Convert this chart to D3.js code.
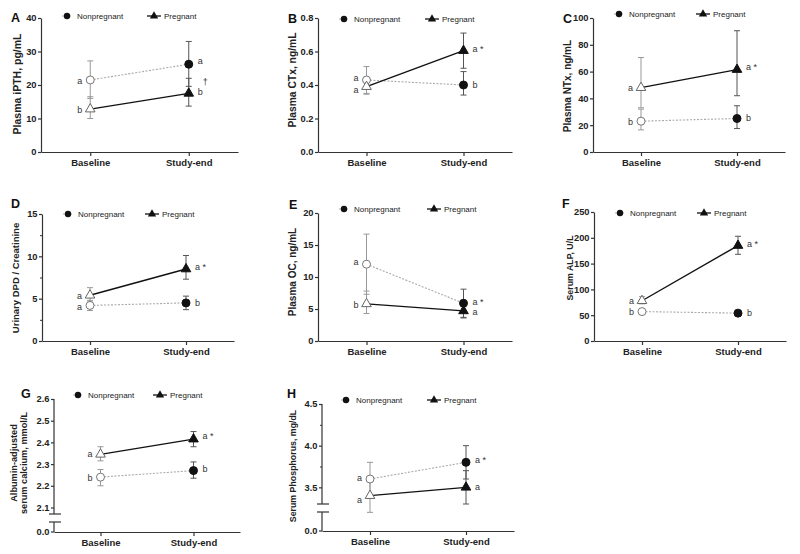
<!DOCTYPE html>
<html><head><meta charset="utf-8">
<script src="https://cdn.jsdelivr.net/npm/d3@7/dist/d3.min.js"></script>
<style>body{margin:0;background:#fff} svg text{font-family:"Liberation Sans",Arial,sans-serif}</style>
</head><body><svg id="c" width="800" height="554"></svg>
<script>
const categories = ["Baseline", "Study-end"];
const seriesNames = ["Nonpregnant", "Pregnant"];

// A: Plasma iPTH
const A_np = [21.5, 26.2], A_npLo = [16.0, 19.6], A_npHi = [27.2, 33.0];
const A_pg = [12.8, 17.5], A_pgLo = [10.0, 13.7], A_pgHi = [16.5, 22.0];
const A_ticks = [0, 10, 20, 30, 40];
const A_notes = [["a", 21.2, 0], ["b", 12.5, 0], ["a", 27.2, 1], ["b", 17.9, 1], ["†", 21.0, 2]];
// B: Plasma CTx
const B_np = [0.43, 0.40], B_npLo = [0.35, 0.34], B_npHi = [0.51, 0.48];
const B_pg = [0.39, 0.605], B_pgLo = [0.345, 0.50], B_pgHi = [0.435, 0.71];
const B_ticks = [0, 0.2, 0.4, 0.6, 0.8];
const B_notes = [["a", 0.44, 0], ["a", 0.37, 0], ["a *", 0.615, 1], ["b", 0.40, 1]];
// C: Plasma NTx
const C_np = [23, 25], C_npLo = [16.5, 17.5], C_npHi = [32, 34.5];
const C_pg = [48, 61.5], C_pgLo = [33, 42], C_pgHi = [70.5, 90.5];
const C_ticks = [0, 20, 40, 60, 80, 100];
const C_notes = [["a", 47.8, 0], ["b", 22.4, 0], ["a *", 63.4, 1], ["b", 25.4, 1]];
// D: Urinary DPD / Creatinine
const D_np = [4.2, 4.5], D_npLo = [3.6, 3.7], D_npHi = [4.8, 5.3];
const D_pg = [5.4, 8.5], D_pgLo = [4.6, 7.3], D_pgHi = [6.3, 10.1];
const D_ticks = [0, 5, 10, 15];
const D_minor = [2.5, 7.5, 12.5];
const D_notes = [["a", 5.35, 0], ["a", 4.05, 0], ["a *", 8.7, 1], ["b", 4.45, 1]];
// E: Plasma OC
const E_np = [12.0, 5.9], E_npLo = [7.3, 3.7], E_npHi = [16.7, 8.1];
const E_pg = [5.8, 4.7], E_pgLo = [4.3, 3.6], E_pgHi = [7.8, 5.8];
const E_ticks = [0, 5, 10, 15, 20];
const E_notes = [["a", 12.4, 0], ["b", 5.6, 0], ["a *", 6.1, 1], ["a", 4.6, 1]];
// F: Serum ALP
const F_np = [57, 54], F_npLo = [54, 50], F_npHi = [60, 58];
const F_pg = [78, 185], F_pgLo = [72, 168], F_pgHi = [86, 203];
const F_ticks = [0, 50, 100, 150, 200, 250];
const F_notes = [["a", 77.5, 0], ["b", 56.8, 0], ["a *", 189, 1], ["b", 53.7, 1]];
// G: Albumin-adjusted serum calcium
const G_np = [2.24, 2.27], G_npLo = [2.20, 2.235], G_npHi = [2.275, 2.31];
const G_pg = [2.345, 2.415], G_pgLo = [2.315, 2.38], G_pgHi = [2.38, 2.45];
const G_ticks = [2.1, 2.2, 2.3, 2.4, 2.5, 2.6];
const G_notes = [["a", 2.348, 0], ["b", 2.235, 0], ["a *", 2.428, 1], ["b", 2.277, 1]];
// H: Serum Phosphorus
const H_np = [3.6, 3.8], H_npLo = [3.4, 3.6], H_npHi = [3.8, 4.0];
const H_pg = [3.4, 3.5], H_pgLo = [3.2, 3.3], H_pgHi = [3.6, 3.7];
const H_ticks = [3.5, 4.0, 4.5];
const H_minor = [3.75, 4.25];
const H_notes = [["a", 3.608, 0], ["a", 3.348, 0], ["a *", 3.828, 1], ["a", 3.50, 1]];

const svg = d3.select("#c");
const AX = "#333";
const FF = '"Liberation Sans",Arial,sans-serif';

function panel(c) {
  const g = svg.append("g");
  const x = d3.scalePoint().domain(categories).range([c.x0, c.x1]).padding(0.5);
  const y = d3.scaleLinear().domain(c.dom).range([c.yb, c.yt]);
  const xAxisY = c.broken ? c.zeroY : c.yb;

  // y axis
  const ya = g.append("g").attr("transform", `translate(${c.x0},0)`)
    .call(d3.axisLeft(y).tickValues(c.ticks).tickSize(3).tickSizeOuter(0).tickPadding(1.5).tickFormat(d3.format(c.fmt)));
  if (c.minor) {
    g.append("g").attr("transform", `translate(${c.x0},0)`)
      .call(d3.axisLeft(y).tickValues(c.minor).tickSize(2).tickFormat(""))
      .call(s => { s.select(".domain").remove(); s.selectAll("line").attr("stroke", AX).attr("stroke-width", 1); });
  }
  if (c.broken) {
    ya.select(".domain").attr("d", `M0,${c.yt}V${c.yb}`);
    g.append("line").attr("x1", c.x0 - 5).attr("x2", c.x0 + 7).attr("y1", c.yb).attr("y2", c.yb).attr("stroke", AX).attr("stroke-width", 1.2);
    g.append("line").attr("x1", c.x0 - 5).attr("x2", c.x0 + 7).attr("y1", c.yb + 8).attr("y2", c.yb + 8).attr("stroke", AX).attr("stroke-width", 1.2);
    g.append("line").attr("x1", c.x0).attr("x2", c.x0).attr("y1", c.yb + 8).attr("y2", c.zeroY).attr("stroke", AX).attr("stroke-width", 1.2);
    g.append("line").attr("x1", c.x0 - 3).attr("x2", c.x0).attr("y1", c.zeroY).attr("y2", c.zeroY).attr("stroke", AX).attr("stroke-width", 1.2);
    g.append("text").attr("x", c.x0 - 4.5).attr("y", c.zeroY).attr("dy", "0.35em").attr("text-anchor", "end")
      .attr("font-size", 9.3).attr("font-weight", "bold").attr("fill", "#222").text("0.0");
  }
  ya.selectAll("path,line").attr("stroke", AX).attr("stroke-width", 1.2);
  ya.selectAll("text").attr("font-size", 9.3).attr("font-weight", "bold").attr("fill", "#222").style("font-family", FF);

  // x axis
  const xa = g.append("g").attr("transform", `translate(0,${xAxisY})`)
    .call(d3.axisBottom(x).tickSize(4).tickSizeOuter(0).tickPadding(3));
  xa.selectAll("path,line").attr("stroke", AX).attr("stroke-width", 1.2);
  xa.selectAll("text").attr("font-size", 9.5).attr("font-weight", "bold").attr("fill", "#222").style("font-family", FF);

  // panel letter
  g.append("text").attr("x", c.lx).attr("y", c.ly).attr("font-size", 12.5).attr("font-weight", "bold").attr("fill", "#111").text(c.letter);

  // y label
  const yl = g.append("text").attr("transform", `translate(${c.yLabX},${c.yLabY}) rotate(-90)`)
    .attr("text-anchor", "middle").attr("font-size", c.yFont).attr("font-weight", "bold").attr("fill", "#222");
  c.yLabel.forEach((t, i) => yl.append("tspan").attr("x", 0).attr("dy", i === 0 ? (-(c.yLabel.length - 1) * 0.55 + "em") : "1.1em").text(t));

  const pts = (vals) => vals.map((v, i) => [x(categories[i]), y(v)]);
  function errs(vals, lo, hi) {
    vals.forEach((v, i) => {
      const cx = x(categories[i]);
      const col = i === 0 ? "#999" : "#555";
      g.append("line").attr("x1", cx).attr("x2", cx).attr("y1", y(lo[i])).attr("y2", y(hi[i])).attr("stroke", col).attr("stroke-width", 1);
      [lo[i], hi[i]].forEach(e => g.append("line").attr("x1", cx - 3).attr("x2", cx + 3).attr("y1", y(e)).attr("y2", y(e)).attr("stroke", col).attr("stroke-width", 1));
    });
  }
  errs(c.np, c.npLo, c.npHi);
  errs(c.pg, c.pgLo, c.pgHi);
  const line = d3.line();
  g.append("path").attr("d", line(pts(c.np))).attr("fill", "none").attr("stroke", "#aaa").attr("stroke-width", 1.1).attr("stroke-dasharray", "2,1.5");
  g.append("path").attr("d", line(pts(c.pg))).attr("fill", "none").attr("stroke", "#111").attr("stroke-width", 1.4);
  const tri = d3.symbol().type(d3.symbolTriangle).size(40);
  pts(c.np).forEach((p, i) => g.append("circle").attr("cx", p[0]).attr("cy", p[1]).attr("r", 4)
    .attr("fill", i === 0 ? "#fff" : "#111").attr("stroke", i === 0 ? "#777" : "#111").attr("stroke-width", 1));
  pts(c.pg).forEach((p, i) => g.append("path").attr("d", tri).attr("transform", `translate(${p[0]},${p[1]})`)
    .attr("fill", i === 0 ? "#fff" : "#111").attr("stroke", i === 0 ? "#666" : "#111").attr("stroke-width", 1));

  // significance letters
  c.notes.forEach(([t, v, side]) => {
    const xb = side === 0 ? x(categories[0]) - 8 : x(categories[1]) + (side === 2 ? 14 : 9);
    g.append("text").attr("x", xb).attr("y", y(v)).attr("dy", "0.35em").attr("text-anchor", side === 0 ? "end" : "start")
      .attr("font-size", 9).attr("fill", "#333").text(t);
  });

  // legend
  const L = c.leg;
  g.append("line").attr("x1", L[0] - 5).attr("x2", L[0] + 5).attr("y1", L[2]).attr("y2", L[2]).attr("stroke", "#aaa").attr("stroke-dasharray", "2,1.5");
  g.append("circle").attr("cx", L[0]).attr("cy", L[2]).attr("r", 3.2).attr("fill", "#111");
  g.append("text").attr("x", L[0] + 10).attr("y", L[2]).attr("dy", "0.35em").attr("font-size", 8).attr("fill", "#222").text(seriesNames[0]);
  g.append("line").attr("x1", L[1] - 7).attr("x2", L[1] + 7).attr("y1", L[2]).attr("y2", L[2]).attr("stroke", "#111").attr("stroke-width", 1.3);
  g.append("path").attr("d", d3.symbol().type(d3.symbolTriangle).size(30)).attr("transform", `translate(${L[1]},${L[2]})`).attr("fill", "#111");
  g.append("text").attr("x", L[1] + 10).attr("y", L[2]).attr("dy", "0.35em").attr("font-size", 8).attr("fill", "#222").text(seriesNames[1]);
}

const panels = [
  {letter: "A", lx: 11, ly: 22, x0: 41, x1: 238, yt: 18, yb: 152, dom: [0, 40], ticks: A_ticks, fmt: "d",
   np: A_np, npLo: A_npLo, npHi: A_npHi, pg: A_pg, pgLo: A_pgLo, pgHi: A_pgHi, notes: A_notes,
   yLabel: ["Plasma  iPTH, pg/mL"], yFont: 10.5, yLabX: 21, yLabY: 84, leg: [67, 154, 16]},
  {letter: "B", lx: 288, ly: 23, x0: 318, x1: 512, yt: 18, yb: 152, dom: [0, 0.8], ticks: B_ticks, fmt: ".1f",
   np: B_np, npLo: B_npLo, npHi: B_npHi, pg: B_pg, pgLo: B_pgLo, pgHi: B_pgHi, notes: B_notes,
   yLabel: ["Plasma CTx, ng/mL"], yFont: 10.3, yLabX: 296, yLabY: 80, leg: [344, 432, 19]},
  {letter: "C", lx: 563, ly: 23, x0: 593, x1: 785, yt: 18, yb: 152, dom: [0, 100], ticks: C_ticks, fmt: "d",
   np: C_np, npLo: C_npLo, npHi: C_npHi, pg: C_pg, pgLo: C_pgLo, pgHi: C_pgHi, notes: C_notes,
   yLabel: ["Plasma NTx, ng/mL"], yFont: 10, yLabX: 571, yLabY: 86, leg: [619, 703, 14]},
  {letter: "D", lx: 11, ly: 208, x0: 42, x1: 234, yt: 214, yb: 341, dom: [0, 15], ticks: D_ticks, fmt: "d", minor: D_minor,
   np: D_np, npLo: D_npLo, npHi: D_npHi, pg: D_pg, pgLo: D_pgLo, pgHi: D_pgHi, notes: D_notes,
   yLabel: ["Urinary DPD / Creatinine"], yFont: 9.5, yLabX: 19, yLabY: 278, leg: [68, 152, 214]},
  {letter: "E", lx: 289, ly: 209, x0: 318, x1: 512, yt: 213, yb: 341, dom: [0, 20], ticks: E_ticks, fmt: "d",
   np: E_np, npLo: E_npLo, npHi: E_npHi, pg: E_pg, pgLo: E_pgLo, pgHi: E_pgHi, notes: E_notes,
   yLabel: ["Plasma OC, ng/mL"], yFont: 10, yLabX: 296, yLabY: 272, leg: [344, 434, 209]},
  {letter: "F", lx: 562, ly: 208, x0: 594, x1: 786, yt: 212, yb: 341, dom: [0, 250], ticks: F_ticks, fmt: "d",
   np: F_np, npLo: F_npLo, npHi: F_npHi, pg: F_pg, pgLo: F_pgLo, pgHi: F_pgHi, notes: F_notes,
   yLabel: ["Serum ALP,  U/L"], yFont: 8.8, yLabX: 573, yLabY: 268, leg: [620, 704, 213]},
  {letter: "G", lx: 21, ly: 398, x0: 54, x1: 240, yt: 399, yb: 514, zeroY: 532, broken: true, dom: [2.07, 2.6], ticks: G_ticks, fmt: ".1f",
   np: G_np, npLo: G_npLo, npHi: G_npHi, pg: G_pg, pgLo: G_pgLo, pgHi: G_pgHi, notes: G_notes,
   yLabel: ["Albumin-adjusted", "serum calcium, mmol/L"], yFont: 9.2, yLabX: 22, yLabY: 463, leg: [78, 160, 395]},
  {letter: "H", lx: 287, ly: 398, x0: 322, x1: 514, yt: 404, yb: 504, zeroY: 531, broken: true, dom: [3.3, 4.5], ticks: H_ticks, fmt: ".1f", minor: H_minor,
   np: H_np, npLo: H_npLo, npHi: H_npHi, pg: H_pg, pgLo: H_pgLo, pgHi: H_pgHi, notes: H_notes,
   yLabel: ["Serum Phosphorus,  mg/dL"], yFont: 8.8, yLabX: 296, yLabY: 466, leg: [346, 434, 400]}
];
panels.forEach(panel);
</script></body></html>
